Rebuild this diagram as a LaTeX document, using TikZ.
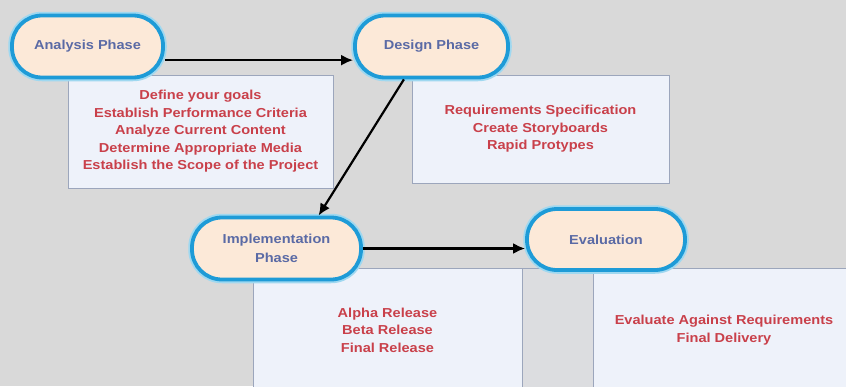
\documentclass[tikz,border=0pt]{standalone}
\usepackage{fontspec}
\setmainfont{Liberation Sans}[FakeStretch=1.12]
\usetikzlibrary{arrows.meta}
\definecolor{bgc}{HTML}{D9D9D9}
\definecolor{pillfill}{HTML}{FCE9D8}
\definecolor{pillline}{HTML}{1E9BD7}
\definecolor{pillglow}{HTML}{9FD8F0}
\definecolor{pilltext}{HTML}{5A6AA5}
\definecolor{boxfill}{HTML}{EEF2FA}
\definecolor{boxline}{HTML}{9CA6BC}
\definecolor{boxtext}{HTML}{C9404A}
\definecolor{stripfill}{HTML}{DCDDE0}
\tikzset{
  pill/.style={rectangle, rounded corners=30pt, fill=pillfill, draw=pillline, line width=3.8pt,
    preaction={draw=pillglow, line width=7.5pt},
    minimum height=62pt, inner sep=0pt, align=center, text=pilltext,
    font=\bfseries\fontsize{13}{19}\selectfont},
  infobox/.style={rectangle, fill=boxfill, draw=boxline, line width=1pt, inner sep=0pt,
    align=center, text=boxtext, font=\bfseries\fontsize{13}{17.5}\selectfont},
  flow/.style={draw=black, line width=2.2pt, -{Latex[length=12pt,width=11pt]}}
}
\begin{document}
\begin{tikzpicture}[x=1pt,y=-1pt]
\clip (0,0) rectangle (846,386);
\fill[bgc] (0,0) rectangle (846,386);
% boxes
\node[infobox, minimum width=265pt, minimum height=113pt] (abox) at (200.5,131.5)
  {Define your goals\\Establish Performance Criteria\\Analyze Current Content\\Determine Appropriate Media\\Establish the Scope of the Project};
\node[infobox, minimum width=257pt, minimum height=108pt] (dbox) at (540.5,129)
  {Requirements Specification\\Create Storyboards\\Rapid Protypes};
\node[infobox, minimum width=269pt, minimum height=124pt] (ibox) at (387.5,330)
  {Alpha Release\\Beta Release\\Final Release};
\node[rectangle, fill=stripfill, draw=boxline, line width=1pt, minimum width=330pt, minimum height=124pt] (strip) at (687,330) {};
\node[infobox, minimum width=262pt, minimum height=124pt] (ebox) at (724,330)
  {Evaluate Against Requirements\\Final Delivery};
% pills
\node[pill, minimum width=151pt] (an) at (87.5,46.5) {Analysis Phase};
\node[pill, minimum width=153pt] (de) at (431.5,46.5) {Design Phase};
\node[pill, minimum width=169pt] (im) at (276.5,248.5) {Implementation\\Phase};
\node[pill, minimum width=158pt, minimum height=61pt] (ev) at (606,239.5) {Evaluation};
% connectors
\draw[flow] (an.-10) -- (an.-10 -| de.west);
\draw[flow] (de.230) -- (im.38);
\draw[flow] (im.east) -- (im.east -| ev.west);
\end{tikzpicture}
\end{document}
